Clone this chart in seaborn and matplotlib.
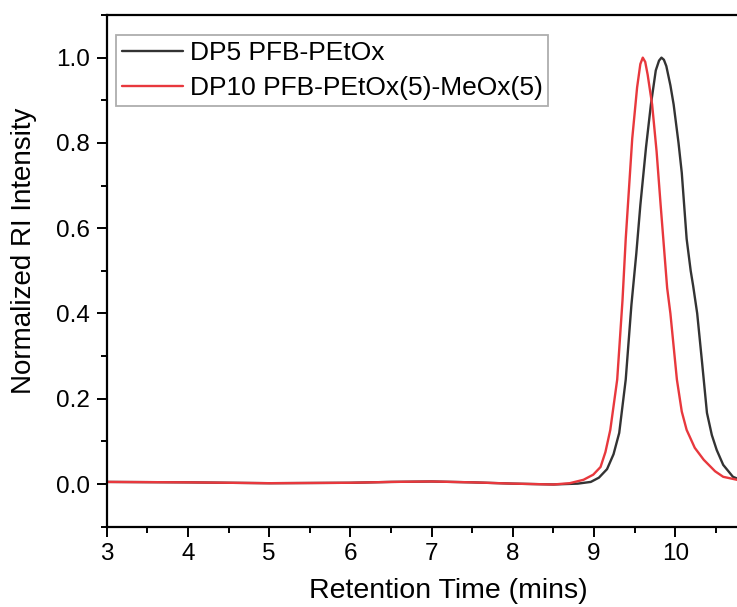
import numpy as np
import pandas as pd
import seaborn as sns
import matplotlib
matplotlib.use("Agg")
import matplotlib.pyplot as plt
from matplotlib.ticker import MultipleLocator

# ---- data ----
label_a = "DP5 PFB-PEtOx"
label_b = "DP10 PFB-PEtOx(5)-MeOx(5)"

x_a = [3.0, 4.0, 5.0, 6.0, 6.5, 7.0, 7.5, 8.0, 8.5, 8.8, 8.96, 9.06, 9.16, 9.24,
       9.31, 9.39, 9.46, 9.52, 9.57, 9.64, 9.70, 9.76, 9.80, 9.83, 9.86, 9.89,
       9.94, 9.98, 10.04, 10.08, 10.14, 10.19, 10.22, 10.27, 10.33, 10.39,
       10.45, 10.51, 10.59, 10.71, 10.8]
y_a = [0.005, 0.004, 0.002, 0.003, 0.005, 0.006, 0.004, 0.001, -0.001, 0.001,
       0.005, 0.015, 0.035, 0.07, 0.12, 0.245, 0.42, 0.54, 0.654, 0.79, 0.89,
       0.97, 0.993, 1.0, 0.995, 0.98, 0.935, 0.89, 0.8, 0.73, 0.575, 0.5,
       0.465, 0.40, 0.285, 0.167, 0.115, 0.08, 0.045, 0.017, 0.01]

x_b = [3.0, 4.0, 5.0, 6.0, 6.5, 7.0, 7.5, 8.0, 8.5, 8.7, 8.87, 8.99, 9.08, 9.14,
       9.20, 9.285, 9.35, 9.39, 9.47, 9.53, 9.57, 9.60, 9.63, 9.66, 9.715,
       9.77, 9.82, 9.90, 9.94, 10.02, 10.08, 10.14, 10.24, 10.35, 10.49, 10.59,
       10.76, 10.8]
y_b = [0.005, 0.004, 0.002, 0.003, 0.005, 0.006, 0.004, 0.001, -0.001, 0.002,
       0.01, 0.022, 0.04, 0.075, 0.127, 0.245, 0.43, 0.575, 0.81, 0.93, 0.985,
       1.0, 0.99, 0.96, 0.89, 0.78, 0.654, 0.46, 0.40, 0.245, 0.17, 0.127,
       0.085, 0.057, 0.03, 0.017, 0.01, 0.008]

xticks = [3, 4, 5, 6, 7, 8, 9, 10]
yticks = [0.0, 0.2, 0.4, 0.6, 0.8, 1.0]

df = pd.concat([
    pd.DataFrame({"x": x_a, "y": y_a, "series": label_a}),
    pd.DataFrame({"x": x_b, "y": y_b, "series": label_b}),
], ignore_index=True)

sns.set_style("white")
plt.rcParams["font.family"] = ["Liberation Sans", "DejaVu Sans"]
plt.rcParams["text.color"] = "black"
plt.rcParams["axes.labelcolor"] = "black"

fig = plt.figure(figsize=(7.37, 6.07), dpi=100)
ax = fig.add_axes([0.1448, 0.1323, 0.8552, 0.8430])

sns.lineplot(data=df, x="x", y="y", hue="series", hue_order=[label_a, label_b],
             palette={label_a: "#333333", label_b: "#e8383d"},
             linewidth=1.7, sort=False, estimator=None, ax=ax)

ax.set_xlim(3, 10.76)
ax.set_ylim(-0.1, 1.1)
ax.set_xticks(xticks)
ax.set_yticks(yticks)
ax.set_xticklabels([str(t) for t in xticks])
ax.set_yticklabels([f"{t:.1f}" for t in yticks])
ax.xaxis.set_minor_locator(MultipleLocator(0.5))
ax.yaxis.set_minor_locator(MultipleLocator(0.1))
ax.tick_params(axis="both", which="major", direction="out", length=7, width=1.4,
               labelsize=17.5, color="black", labelcolor="black", pad=5,
               bottom=True, left=True)
ax.tick_params(axis="both", which="minor", direction="out", length=4, width=1.4,
               color="black", bottom=True, left=True)

for side in ["left", "bottom", "top"]:
    ax.spines[side].set_color("black")
    ax.spines[side].set_linewidth(1.6)
ax.spines["right"].set_visible(False)

ax.set_xlabel("Retention Time (mins)", fontsize=20.5)
ax.set_ylabel("Normalized RI Intensity", fontsize=20)
ax.xaxis.set_label_coords(0.542, -0.10)
ax.yaxis.set_label_coords(-0.11, 0.54)

leg = ax.legend(loc="upper left", bbox_to_anchor=(0.0148, 0.961), fontsize=19,
                frameon=True, fancybox=False, handlelength=2.3,
                handletextpad=0.27, borderpad=0.22, labelspacing=0.42,
                borderaxespad=0)
leg.get_frame().set_edgecolor("#999999")
leg.get_frame().set_linewidth(1.3)
for line in leg.get_lines():
    line.set_linewidth(1.7)

fig.savefig("out.png", dpi=100)
